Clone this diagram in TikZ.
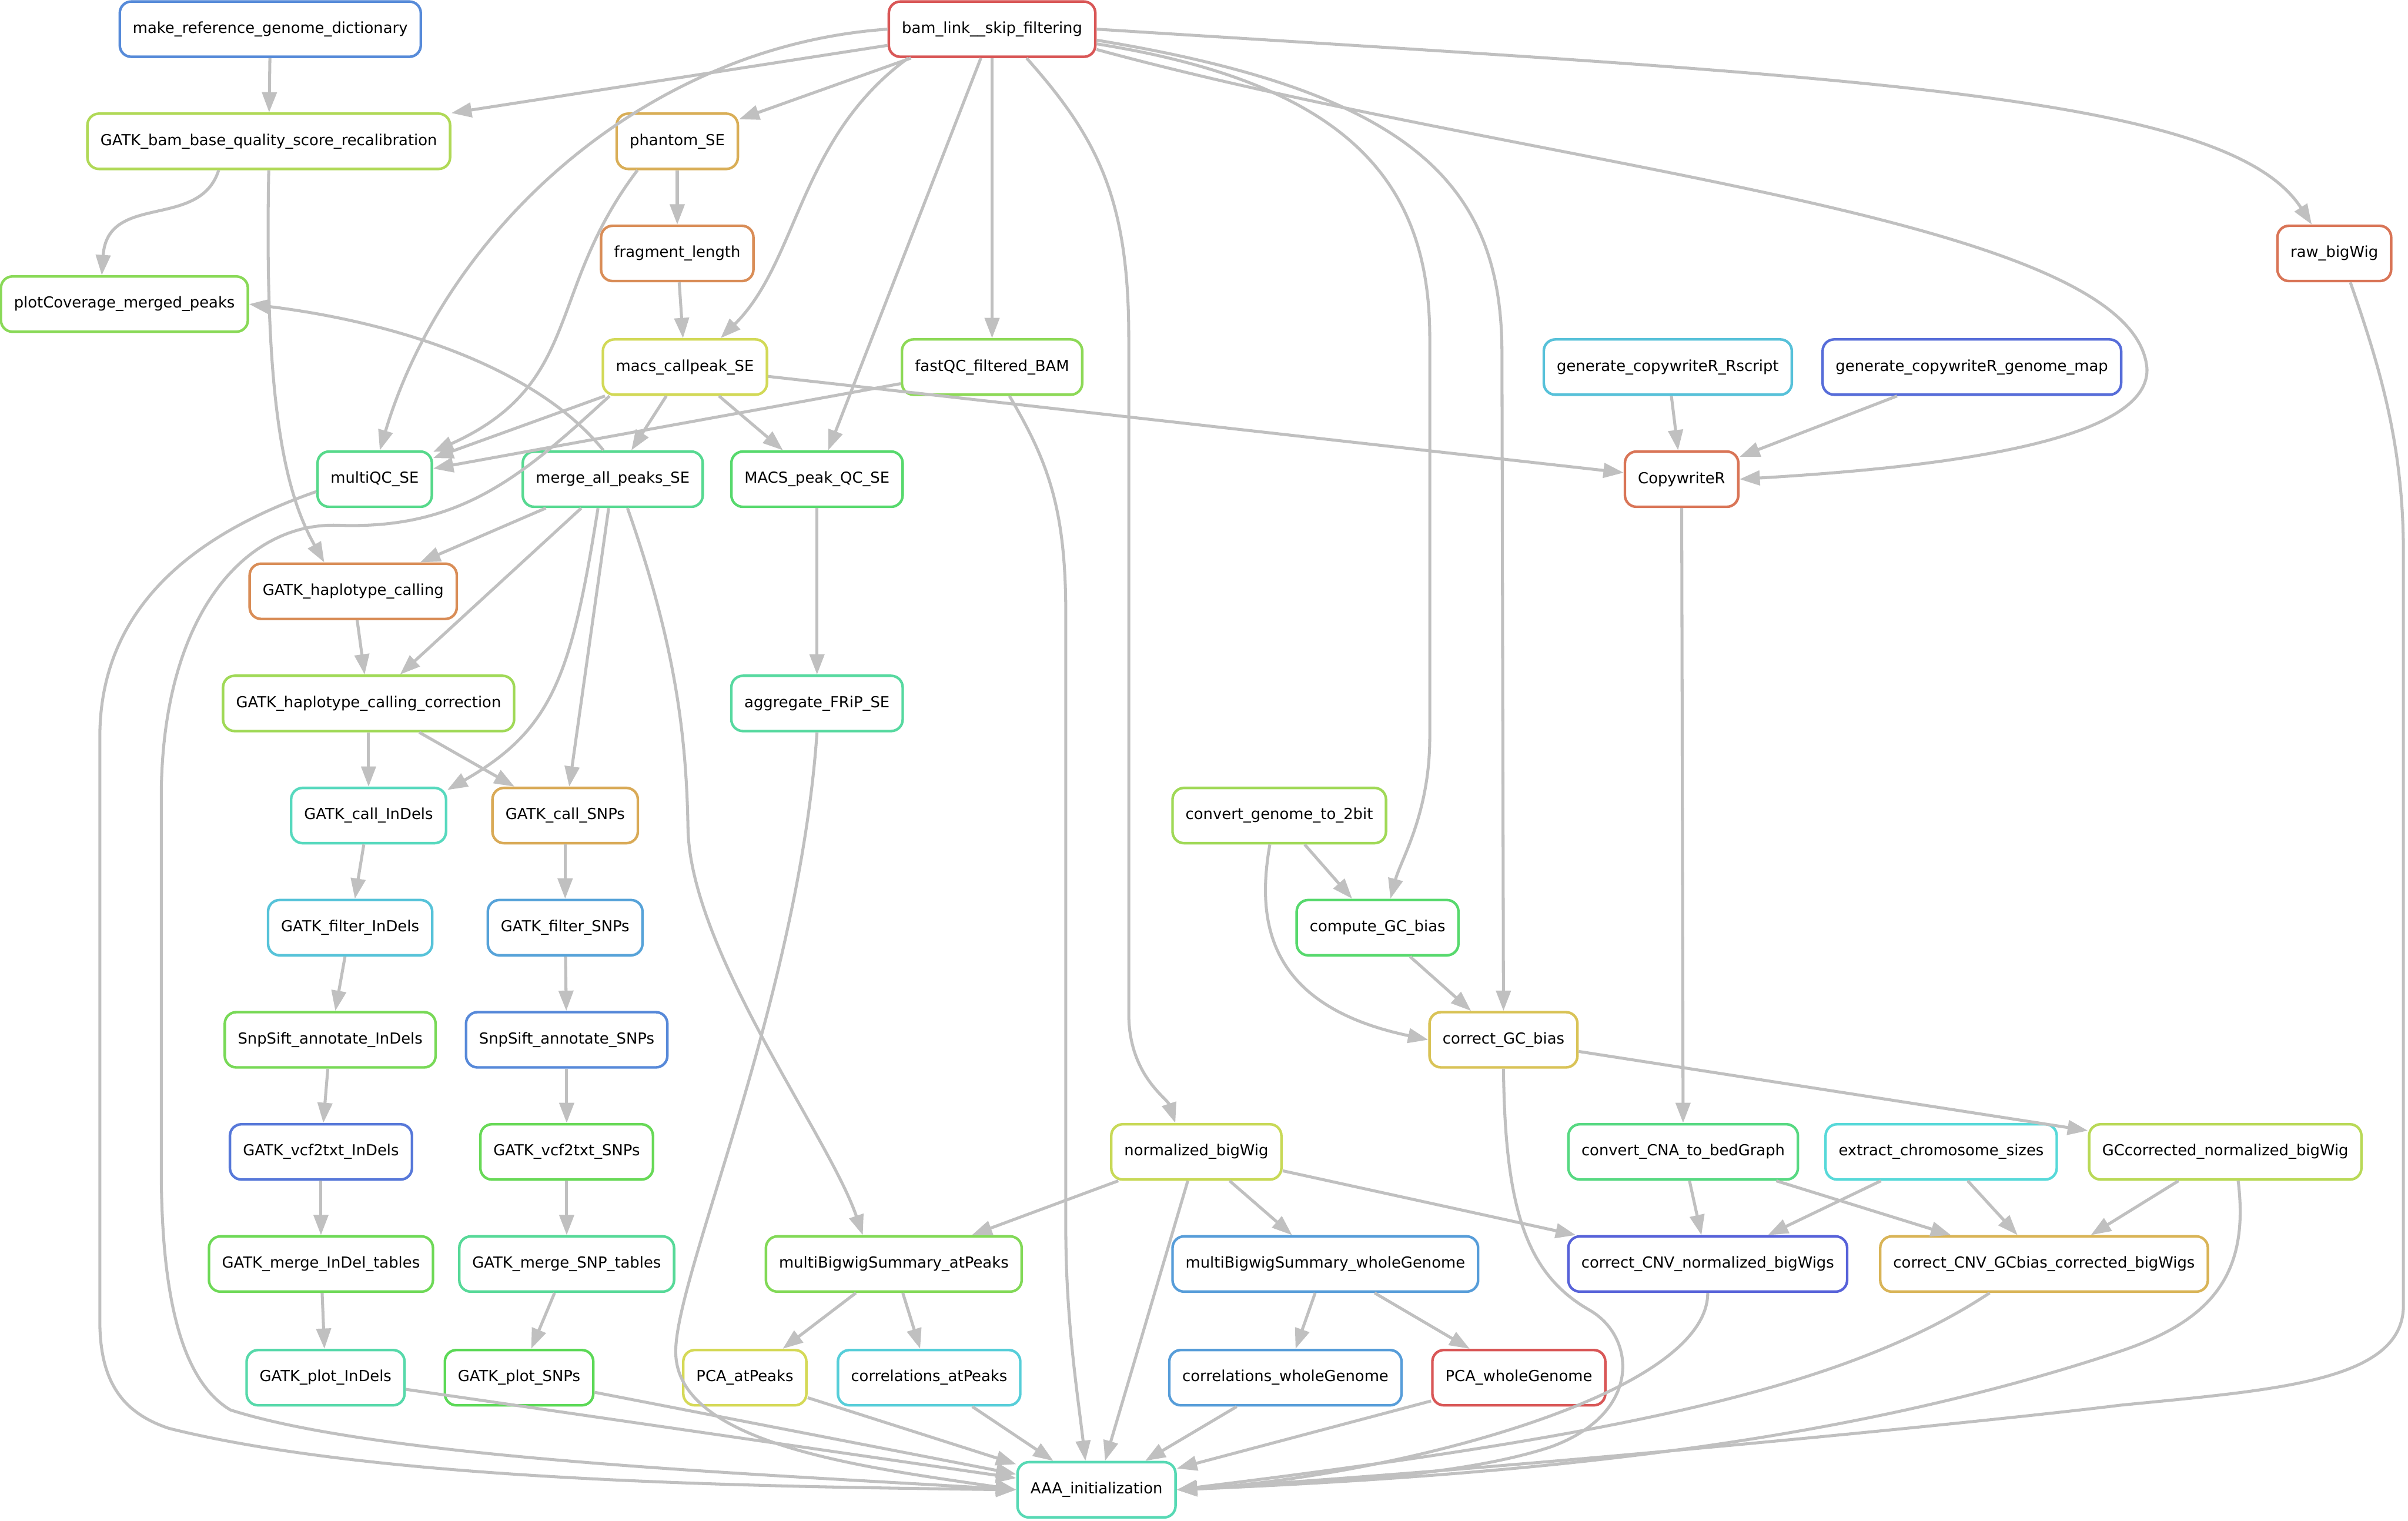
\documentclass[tikz,border=0pt]{standalone}
\usepackage{fontspec}
\setmainfont{DejaVu Sans}
\usepackage{tikz}
\usetikzlibrary{arrows.meta}

\definecolor{edgegray}{RGB}{192,192,192}
\definecolor{cMkdict}{RGB}{87,139,217}
\definecolor{cBamlink}{RGB}{217,87,87}
\definecolor{cBqsr}{RGB}{176,217,87}
\definecolor{cPhantom}{RGB}{217,174,87}
\definecolor{cFraglen}{RGB}{217,141,87}
\definecolor{cRawbw}{RGB}{217,117,87}
\definecolor{cPlotcov}{RGB}{137,217,87}
\definecolor{cMacs}{RGB}{210,217,87}
\definecolor{cFastqc}{RGB}{141,217,87}
\definecolor{cCwscript}{RGB}{87,193,217}
\definecolor{cCwmap}{RGB}{87,109,217}
\definecolor{cMultiqc}{RGB}{87,217,139}
\definecolor{cMerge}{RGB}{87,217,145}
\definecolor{cMacsqc}{RGB}{87,217,109}
\definecolor{cCopywriter}{RGB}{217,117,87}
\definecolor{cHapcall}{RGB}{217,141,87}
\definecolor{cHapcorr}{RGB}{160,217,87}
\definecolor{cFrip}{RGB}{87,217,160}
\definecolor{cCallindels}{RGB}{87,217,190}
\definecolor{cCallsnps}{RGB}{217,170,87}
\definecolor{cTwobit}{RGB}{160,217,87}
\definecolor{cFiltindels}{RGB}{87,195,217}
\definecolor{cFiltsnps}{RGB}{87,163,217}
\definecolor{cGcbias}{RGB}{87,217,109}
\definecolor{cAnnindels}{RGB}{120,217,87}
\definecolor{cAnnsnps}{RGB}{87,137,217}
\definecolor{cCorrgc}{RGB}{217,195,87}
\definecolor{cVcfindels}{RGB}{87,120,217}
\definecolor{cVcfsnps}{RGB}{104,217,87}
\definecolor{cNormbw}{RGB}{200,217,87}
\definecolor{cCna}{RGB}{87,217,130}
\definecolor{cChromsizes}{RGB}{87,217,217}
\definecolor{cGcnormbw}{RGB}{185,217,87}
\definecolor{cMergeindels}{RGB}{110,217,87}
\definecolor{cMergesnps}{RGB}{87,217,152}
\definecolor{cMbwpeaks}{RGB}{130,217,87}
\definecolor{cMbwgenome}{RGB}{87,157,217}
\definecolor{cCnvnorm}{RGB}{87,98,217}
\definecolor{cCnvgc}{RGB}{217,180,87}
\definecolor{cPlotindels}{RGB}{87,217,170}
\definecolor{cPlotsnps}{RGB}{92,217,87}
\definecolor{cPcapeaks}{RGB}{213,217,87}
\definecolor{cCorpeaks}{RGB}{87,206,217}
\definecolor{cCorgenome}{RGB}{87,157,217}
\definecolor{cPcagenome}{RGB}{217,87,87}
\definecolor{cInit}{RGB}{87,217,180}

\begin{document}
\begin{tikzpicture}[x=0.02cm,y=-0.02cm,>={Triangle[length=7.5pt,width=5.4pt]},
  job/.style={draw=#1,line width=0.95pt,rounded corners=0.15cm,fill=white,minimum height=0.72cm,
    inner xsep=0.17cm,inner ysep=0pt,font=\fontsize{5.63}{6.5}\selectfont},
  dep/.style={->,draw=edgegray,line width=1.1pt}]
  \useasboundingbox[fill=white] (0,0) rectangle (1568,990);

  % rules
  \node[job=cMkdict] (mkdict) at (176,19) {make\_reference\_genome\_dictionary};
  \node[job=cBamlink] (bamlink) at (646,19) {bam\_link\_\_skip\_filtering};
  \node[job=cBqsr] (bqsr) at (175,92) {GATK\_bam\_base\_quality\_score\_recalibration};
  \node[job=cPhantom] (phantom) at (441,92) {phantom\_SE};
  \node[job=cFraglen] (fraglen) at (441,165) {fragment\_length};
  \node[job=cRawbw] (rawbw) at (1520,165) {raw\_bigWig};
  \node[job=cPlotcov] (plotcov) at (81,198) {plotCoverage\_merged\_peaks};
  \node[job=cMacs] (macs) at (446,239) {macs\_callpeak\_SE};
  \node[job=cFastqc] (fastqc) at (646,239) {fastQC\_filtered\_BAM};
  \node[job=cCwscript] (cwscript) at (1086,239) {generate\_copywriteR\_Rscript};
  \node[job=cCwmap] (cwmap) at (1284,239) {generate\_copywriteR\_genome\_map};
  \node[job=cMultiqc] (multiqc) at (244,312) {multiQC\_SE};
  \node[job=cMerge] (mergepeaks) at (399,312) {merge\_all\_peaks\_SE};
  \node[job=cMacsqc] (macsqc) at (532,312) {MACS\_peak\_QC\_SE};
  \node[job=cCopywriter] (copywriter) at (1095,312) {CopywriteR};
  \node[job=cHapcall] (hapcall) at (230,385) {GATK\_haplotype\_calling};
  \node[job=cHapcorr] (hapcorr) at (240,458) {GATK\_haplotype\_calling\_correction};
  \node[job=cFrip] (frip) at (532,458) {aggregate\_FRiP\_SE};
  \node[job=cCallindels] (callindels) at (240,531) {GATK\_call\_InDels};
  \node[job=cCallsnps] (callsnps) at (368,531) {GATK\_call\_SNPs};
  \node[job=cTwobit] (twobit) at (833,531) {convert\_genome\_to\_2bit};
  \node[job=cFiltindels] (filtindels) at (228,604) {GATK\_filter\_InDels};
  \node[job=cFiltsnps] (filtsnps) at (368,604) {GATK\_filter\_SNPs};
  \node[job=cGcbias] (gcbias) at (897,604) {compute\_GC\_bias};
  \node[job=cAnnindels] (annindels) at (215,677) {SnpSift\_annotate\_InDels};
  \node[job=cAnnsnps] (annsnps) at (369,677) {SnpSift\_annotate\_SNPs};
  \node[job=cCorrgc] (corrgc) at (979,677) {correct\_GC\_bias};
  \node[job=cVcfindels] (vcfindels) at (209,750) {GATK\_vcf2txt\_InDels};
  \node[job=cVcfsnps] (vcfsnps) at (369,750) {GATK\_vcf2txt\_SNPs};
  \node[job=cNormbw] (normbw) at (779,750) {normalized\_bigWig};
  \node[job=cCna] (cna) at (1096,750) {convert\_CNA\_to\_bedGraph};
  \node[job=cChromsizes] (chromsizes) at (1264,750) {extract\_chromosome\_sizes};
  \node[job=cGcnormbw] (gcnormbw) at (1449,750) {GCcorrected\_normalized\_bigWig};
  \node[job=cMergeindels] (mergeindels) at (209,823) {GATK\_merge\_InDel\_tables};
  \node[job=cMergesnps] (mergesnps) at (369,823) {GATK\_merge\_SNP\_tables};
  \node[job=cMbwpeaks] (mbwpeaks) at (582,823) {multiBigwigSummary\_atPeaks};
  \node[job=cMbwgenome] (mbwgenome) at (863,823) {multiBigwigSummary\_wholeGenome};
  \node[job=cCnvnorm] (cnvnorm) at (1112,823) {correct\_CNV\_normalized\_bigWigs};
  \node[job=cCnvgc] (cnvgc) at (1331,823) {correct\_CNV\_GCbias\_corrected\_bigWigs};
  \node[job=cPlotindels] (plotindels) at (212,897) {GATK\_plot\_InDels};
  \node[job=cPlotsnps] (plotsnps) at (338,897) {GATK\_plot\_SNPs};
  \node[job=cPcapeaks] (pcapeaks) at (485,897) {PCA\_atPeaks};
  \node[job=cCorpeaks] (corpeaks) at (605,897) {correlations\_atPeaks};
  \node[job=cCorgenome] (corgenome) at (837,897) {correlations\_wholeGenome};
  \node[job=cPcagenome] (pcagenome) at (989,897) {PCA\_wholeGenome};
  \node[job=cInit] (init) at (714,970) {AAA\_initialization};

  % straight dependencies
  \foreach \a/\b in {mkdict/bqsr,bamlink/bqsr,bamlink/phantom,bamlink/macsqc,bamlink/fastqc,
      phantom/fraglen,fraglen/macs,macs/multiqc,macs/mergepeaks,macs/macsqc,macs/copywriter,
      fastqc/multiqc,cwscript/copywriter,cwmap/copywriter,mergepeaks/hapcall,mergepeaks/hapcorr,
      mergepeaks/callsnps,macsqc/frip,copywriter/cna,hapcall/hapcorr,hapcorr/callindels,hapcorr/callsnps,
      callindels/filtindels,filtindels/annindels,annindels/vcfindels,vcfindels/mergeindels,
      mergeindels/plotindels,plotindels/init,callsnps/filtsnps,filtsnps/annsnps,annsnps/vcfsnps,
      vcfsnps/mergesnps,mergesnps/plotsnps,plotsnps/init,twobit/gcbias,gcbias/corrgc,corrgc/gcnormbw,
      normbw/mbwpeaks,normbw/mbwgenome,normbw/cnvnorm,normbw/init,cna/cnvnorm,cna/cnvgc,
      chromsizes/cnvnorm,chromsizes/cnvgc,gcnormbw/cnvgc,mbwpeaks/pcapeaks,mbwpeaks/corpeaks,
      mbwgenome/corgenome,mbwgenome/pcagenome,pcapeaks/init,corpeaks/init,corgenome/init,pcagenome/init}
    {\draw[dep] (\a) -- (\b);}

  % curved dependencies
  \draw[dep] (bamlink.west) .. controls (420,30) and (290,150) .. (multiqc.80);
  \draw[dep] (bamlink.199) .. controls (520,90) and (520,170) .. (macs.39);
  \draw[dep] (bamlink.-40) .. controls (715,90) and (735,130) .. (735,220) -- (735,660)
    .. controls (735,700) and (760,715) .. (normbw.126);
  \draw[dep] (bamlink.-8) .. controls (880,55) and (931,120) .. (931,220) -- (931,480)
    .. controls (931,530) and (912,560) .. (gcbias.66);
  \draw[dep] (bamlink.-6) .. controls (920,60) and (978,120) .. (978,230) -- (corrgc.north);
  \draw[dep] (bamlink.-11) .. controls (1000,110) and (1390,140) .. (1398,240)
    .. controls (1400,290) and (1250,305) .. (copywriter.east);
  \draw[dep] (bamlink.east) .. controls (1200,50) and (1450,60) .. (rawbw.128);
  \draw[dep] (bqsr.210) .. controls (130,150) and (70,125) .. (plotcov.128);
  \draw[dep] (bqsr.south) .. controls (172,260) and (185,320) .. (hapcall.135);
  \draw[dep] (phantom.216) .. controls (355,190) and (380,250) .. (multiqc.25);
  \draw[dep] (mergepeaks.108) .. controls (350,240) and (260,210) .. (plotcov.east);
  \draw[dep] (mergepeaks.243) .. controls (372,440) and (360,475) .. (callindels.18);
  \draw[dep] (mergepeaks.-63) .. controls (440,420) and (447,480) .. (448,540)
    .. controls (450,620) and (540,740) .. (mbwpeaks.137);
  \draw[dep] (twobit.252) .. controls (818,600) and (825,655) .. (corrgc.west);

  % into AAA_initialization
  \draw[dep] (multiqc.192) .. controls (120,350) and (65,400) .. (65,480) -- (65,860)
    .. controls (65,900) and (80,920) .. (110,930) .. controls (250,965) and (500,968) .. (init.west);
  \draw[dep] (macs.201) .. controls (340,310) and (300,345) .. (220,342)
    .. controls (160,340) and (105,400) .. (105,520) -- (105,760)
    .. controls (105,850) and (120,900) .. (150,918) .. controls (250,950) and (500,960) .. (init.west);
  \draw[dep] (fastqc.-59) .. controls (682,300) and (694,330) .. (694,400) -- (694,800)
    .. controls (694,860) and (702,910) .. (init.111);
  \draw[dep] (frip.south) .. controls (520,650) and (440,830) .. (440,880)
    .. controls (440,940) and (560,955) .. (init.west);
  \draw[dep] (corrgc.south) .. controls (980,790) and (995,830) .. (1035,853)
    .. controls (1065,870) and (1070,920) .. (1010,942) .. controls (950,962) and (850,966) .. (init.east);
  \draw[dep] (cnvnorm.south) .. controls (1112,910) and (900,962) .. (init.east);
  \draw[dep] (cnvgc.208) .. controls (1200,905) and (1050,935) .. (init.east);
  \draw[dep] (gcnormbw.-66) .. controls (1465,830) and (1440,860) .. (1380,880)
    .. controls (1200,940) and (1000,960) .. (init.east);
  \draw[dep] (rawbw.-61) .. controls (1550,240) and (1565,290) .. (1565,360) -- (1565,850)
    .. controls (1565,900) and (1480,905) .. (1380,915) .. controls (1300,925) and (1000,955) .. (init.east);
\end{tikzpicture}
\end{document}
